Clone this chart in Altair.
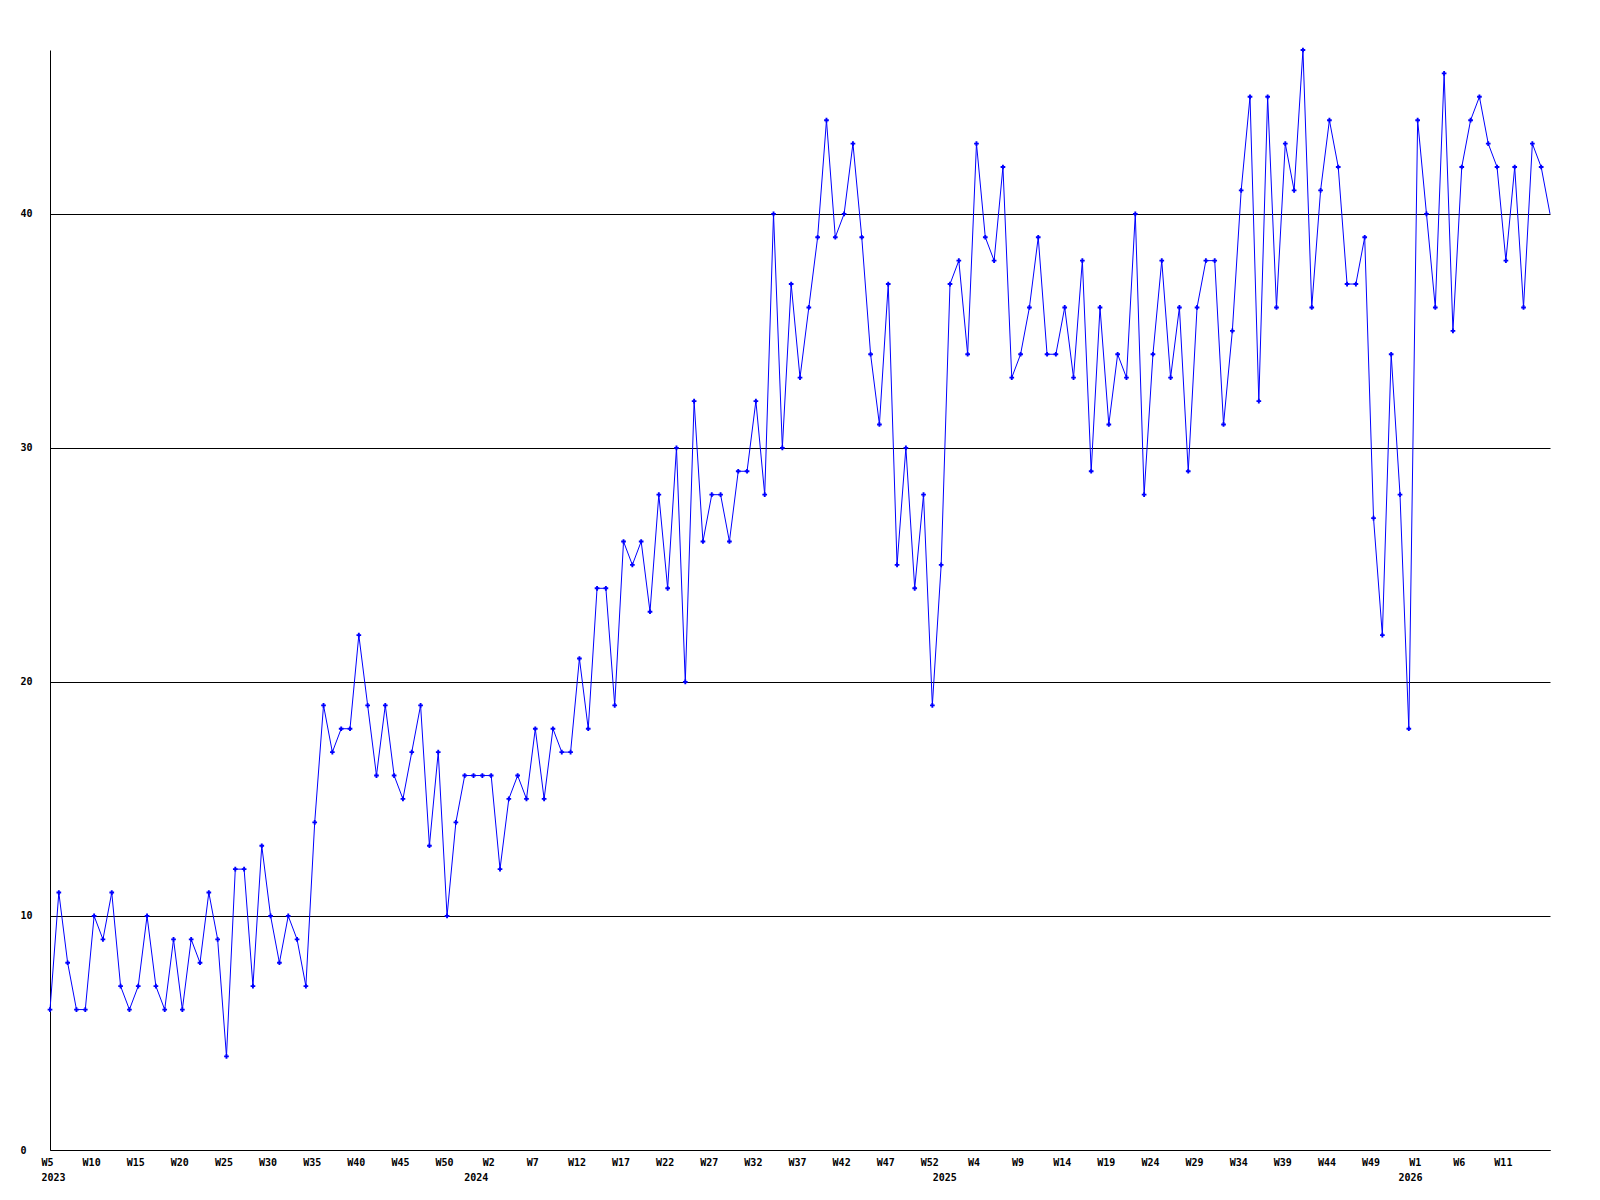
import altair as alt
import pandas as pd

# Weekly values, starting at 2023 W5 (one value per week)
values = [
    6, 11, 8, 6, 6, 10, 9, 11, 7, 6, 7, 10, 7, 6, 9, 6, 9, 8, 11, 9, 4, 12, 12, 7, 13, 10, 8, 10, 9, 7, 14,
    19, 17, 18, 18, 22, 19, 16, 19, 16, 15, 17, 19, 13, 17, 10, 14, 16, 16, 16, 16, 12, 15, 16, 15, 18, 15, 18, 17, 17, 21, 18, 24,
    24, 19, 26, 25, 26, 23, 28, 24, 30, 20, 32, 26, 28, 28, 26, 29, 29, 32,
    28, 40, 30, 37, 33, 36, 39, 44, 39, 40, 43, 39, 34, 31, 37, 25, 30, 24,
    28, 19, 25, 37, 38, 34, 43, 39, 38, 42, 33, 34, 36, 39, 34, 34, 36, 33,
    38, 29, 36, 31, 34, 33, 40, 28, 34, 38, 33, 36, 29, 36, 38, 38, 31, 35,
    41, 45, 32, 45, 36, 43, 41, 47, 36, 41, 44, 42, 37, 37, 39, 27, 22, 34,
    28, 18, 44, 40, 36, 46, 35, 42, 44, 45, 43, 42, 38, 42, 36, 43, 42, 40,
]

# x-axis tick labels (every 5 weeks)
week_labels = [
    "W5", "W10", "W15", "W20", "W25", "W30", "W35", "W40", "W45", "W50",
    "W2", "W7", "W12", "W17", "W22", "W27", "W32", "W37", "W42", "W47", "W52",
    "W4", "W9", "W14", "W19", "W24", "W29", "W34", "W39", "W44", "W49",
    "W1", "W6", "W11",
]
week_ticks = [i * 5 for i in range(len(week_labels))]

# Year labels and the week index they sit under
years = ["2023", "2024", "2025", "2026"]
year_index = [0.4, 48.3, 101.4, 154.2]

y_ticks = [0, 10, 20, 30, 40]

df = pd.DataFrame({"idx": list(range(len(values))), "value": values})
ydf = pd.DataFrame({"idx": year_index, "year": years})

FONT = "DejaVu Sans Mono"
n = len(values) - 1

label_arr = "[" + ",".join("'%s'" % s for s in week_labels) + "]"

x_scale = alt.Scale(domain=[0, n], nice=False, zero=False)
y_scale = alt.Scale(domain=[0, max(values)], nice=False, zero=True)

x_axis = alt.Axis(
    values=week_ticks,
    labelExpr=label_arr + "[round(datum.value/5)]",
    grid=False, ticks=False, title=None,
    domainColor="black", domainWidth=1,
    labelFont=FONT, labelFontSize=10, labelFontWeight="bold", labelColor="black",
    labelPadding=7, labelAngle=0, labelOverlap=False, labelFlush=False,
    labelOffset=-3,
)
y_axis = alt.Axis(
    values=y_ticks, format="d",
    grid=True, gridColor="black", gridWidth=1, gridOpacity=1,
    ticks=False, title=None,
    domainColor="black", domainWidth=1,
    labelFont=FONT, labelFontSize=10, labelFontWeight="bold", labelColor="black",
    labelAlign="left", labelPadding=30, labelBaseline="middle", labelFlush=False,
)

base = alt.Chart(df)

line = base.mark_line(color="#0000ff", strokeWidth=1).encode(
    x=alt.X("idx:Q", scale=x_scale, axis=x_axis),
    y=alt.Y("value:Q", scale=y_scale, axis=y_axis),
)
pts = base.transform_filter(alt.datum.idx < n).mark_point(
    shape="cross", filled=True, size=22, color="#0000ff", opacity=1
).encode(
    x=alt.X("idx:Q", scale=x_scale),
    y=alt.Y("value:Q", scale=y_scale),
)
yr = alt.Chart(ydf).mark_text(
    font=FONT, fontSize=10, fontWeight="bold", color="black", baseline="middle", align="center"
).encode(
    x=alt.X("idx:Q", scale=x_scale),
    y=alt.value(1128),
    text="year:N",
)

chart = alt.layer(line, pts, yr).properties(
    width=1500, height=1100,
    autosize="none",
    padding={"left": 42, "top": 42, "right": 40, "bottom": 45},
    background="white",
).configure_view(stroke=None)

chart.save("out.html", embed_options={"renderer": "svg", "actions": False})
